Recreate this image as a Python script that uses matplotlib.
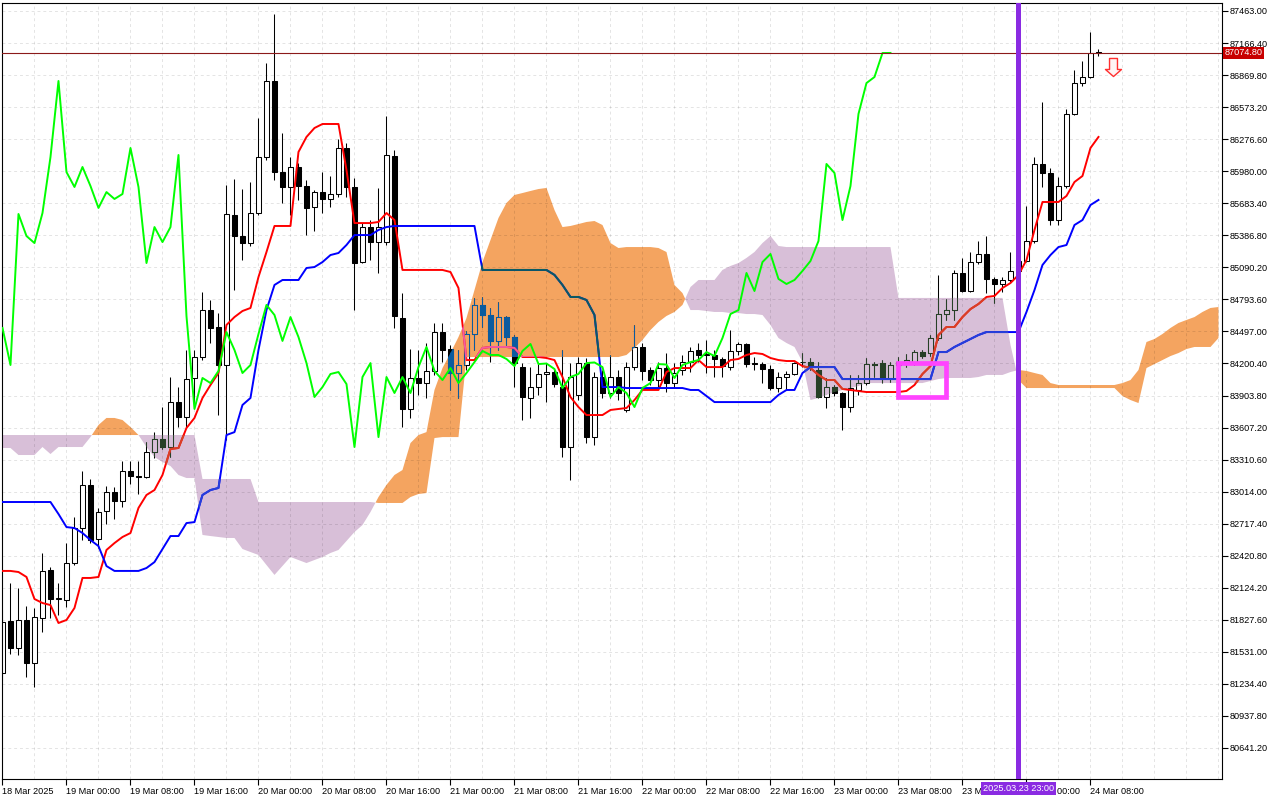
import numpy as np
import matplotlib
matplotlib.use("Agg")
import matplotlib.pyplot as plt
from matplotlib.colors import to_rgb, to_hex
from matplotlib.path import Path
from matplotlib.patches import Rectangle
from matplotlib.transforms import blended_transform_factory

plt.rcParams['font.family'] = ['Liberation Sans', 'DejaVu Sans']

# BTCUSD H1, first bar 18 Mar 16:00, last bar 24 Mar 09:00
opens = [81335, 81817, 81567, 81826, 81428, 81844, 82289, 82020, 82011, 82353,
         82677, 83076, 82576, 82835, 83010, 82928, 83205, 83158, 83149, 83380,
         83501, 83427, 83843, 83705, 84066, 84260, 84695, 84538, 84186, 85575,
         85380, 85315, 85593, 86111, 86815, 85972, 85834, 86019, 85843, 85649,
         85787, 85723, 85769, 86195, 85834, 85139, 85463, 85324, 85324, 86120,
         84621, 83779, 84066, 84019, 84131, 84491, 84335, 84112, 84186, 84473,
         84742, 84649, 84409, 84630, 84445, 84167, 83881, 83982, 84103, 84121,
         83982, 83427, 83909, 84204, 83519, 84075, 83927, 84075, 83770, 84167,
         84353, 84140, 84047, 84158, 84019, 84140, 84213, 84325, 84288, 84279,
         84242, 84167, 84316, 84381, 84204, 84195, 84149, 83973, 84075, 84103,
         84213, 84213, 84140, 83890, 83982, 83927, 83797, 83955, 84019, 84195,
         84204, 84066, 84186, 84213, 84213, 84306, 84297, 84436, 84658, 84695,
         85038, 84871, 85139, 85214, 84983, 84936, 84973, 85057, 85149, 85334,
         86047, 85964, 85528, 85843, 86510, 86796, 86852, 87080]
highs = [81918, 82168, 82122, 81955, 81937, 82446, 82316, 82168, 82538, 82779,
         83205, 83131, 82863, 83066, 83057, 83298, 83298, 83298, 83473, 83565,
         83797, 84075, 83982, 84325, 84325, 84861, 84788, 84667, 85853, 85908,
         85816, 85880, 86473, 86982, 87435, 86334, 86111, 86056, 85899, 85806,
         85972, 85935, 86279, 86241, 85917, 85500, 85528, 85825, 86491, 86176,
         84852, 84335, 84325, 84390, 84575, 84575, 84372, 84325, 84501, 84806,
         84815, 84714, 84769, 84639, 84464, 84204, 84167, 84204, 84204, 84158,
         84325, 84204, 84260, 84251, 84121, 84140, 84279, 84140, 84213, 84557,
         84390, 84167, 84213, 84297, 84204, 84279, 84353, 84390, 84418, 84325,
         84260, 84510, 84399, 84390, 84260, 84213, 84186, 84121, 84131, 84213,
         84297, 84251, 84213, 84066, 84001, 83940, 84094, 84094, 84251, 84213,
         84232, 84213, 84260, 84288, 84325, 84325, 84464, 85020, 84797, 85066,
         85177, 85232, 85334, 85380, 85001, 85001, 85232, 85205, 85658, 86111,
         86620, 86010, 85926, 86556, 86917, 87001, 87268, 87112]
lows = [81270, 81511, 81502, 81298, 81205, 81714, 81844, 81872, 81946, 82335,
        82566, 82538, 82492, 82714, 82761, 82872, 83085, 82992, 83140, 83325,
        83409, 83334, 83612, 83612, 83816, 84232, 84390, 83724, 83492, 84880,
        85158, 85287, 85575, 86084, 85899, 85686, 85575, 85714, 85390, 85427,
        85593, 85649, 85741, 85741, 84695, 85130, 85158, 85038, 85297, 84529,
        83612, 83696, 83909, 83881, 84094, 84213, 83955, 83881, 84140, 84325,
        84538, 84213, 84325, 84372, 83982, 83677, 83696, 83909, 83843, 83982,
        83334, 83122, 83862, 83464, 83446, 83881, 83881, 83862, 83751, 84140,
        84047, 84001, 83982, 83936, 83973, 84094, 84121, 84213, 84112, 84075,
        84075, 84140, 84279, 84167, 84140, 84019, 83955, 83936, 83955, 84094,
        84167, 84140, 83881, 83788, 83899, 83584, 83751, 83909, 84001, 84075,
        84019, 84028, 84158, 84167, 84186, 84251, 84269, 84418, 84603, 84603,
        84861, 84861, 85121, 84852, 84760, 84861, 84954, 85020, 85139, 85315,
        85834, 85482, 85482, 85825, 86501, 86768, 86845, 87046]
closes = [81807, 81567, 81826, 81428, 81853, 82280, 82020, 82029, 82353, 82677,
          83076, 82566, 82825, 83010, 82928, 83205, 83158, 83149, 83380, 83501,
          83427, 83843, 83705, 84057, 84260, 84695, 84529, 84186, 85584, 85380,
          85315, 85593, 86111, 86815, 85972, 85834, 86019, 85843, 85640, 85787,
          85723, 85769, 86195, 85834, 85130, 85463, 85324, 85463, 86130, 84639,
          83779, 84066, 84019, 84131, 84491, 84325, 84112, 84186, 84473, 84742,
          84649, 84409, 84630, 84445, 84204, 83890, 83982, 84103, 84121, 84010,
          83427, 84075, 84204, 83519, 84075, 83927, 84075, 83927, 84167, 84353,
          84131, 84047, 84158, 84019, 84112, 84213, 84316, 84279, 84279, 84242,
          84176, 84316, 84381, 84195, 84200, 84149, 83973, 84075, 84103, 84204,
          84210, 84167, 83890, 83982, 83927, 83797, 83973, 84019, 84195, 84190,
          84066, 84186, 84213, 84232, 84306, 84269, 84436, 84658, 84695, 85038,
          84871, 85139, 85214, 84983, 84936, 84973, 85057, 85149, 85334, 86047,
          85964, 85528, 85843, 86510, 86796, 86852, 87074, 87074.8]

# Ichimoku (9, 26, 52)
tenkan = [82280, 82280, 82270, 82224, 82020, 81983, 81964, 81798, 81826, 81937,
          82215, 82215, 82224, 82474, 82538, 82594, 82631, 82863, 82983, 83029,
          83168, 83409, 83418, 83603, 83696, 83881, 84001, 84112, 84557, 84630,
          84686, 84714, 85001, 85232, 85473, 85473, 85473, 86158, 86297, 86380,
          86417, 86417, 86417, 85991, 85500, 85500, 85500, 85510, 85593, 85528,
          85066, 85066, 85066, 85066, 85066, 85066, 85047, 84899, 84232, 84232,
          84344, 84353, 84353, 84353, 84344, 84260, 84260, 84260, 84251, 84232,
          84075, 83890, 83797, 83723, 83723, 83723, 83770, 83779, 83788, 83862,
          83955, 83955, 83955, 84121, 84158, 84158, 84158, 84232, 84167, 84167,
          84167, 84232, 84242, 84279, 84297, 84288, 84251, 84232, 84223, 84223,
          84176, 84158, 84094, 84047, 84047, 83964, 83955, 83946, 83936, 83936,
          83936, 83936, 83936, 83946, 84001, 84103, 84176, 84464, 84538, 84538,
          84630, 84704, 84751, 84816, 84825, 84899, 84945, 85020, 85158, 85436,
          85695, 85695, 85695, 85751, 85880, 85936, 86195, 86297]
kijun = [82918, 82918, 82918, 82918, 82918, 82918, 82918, 82807, 82686, 82677,
         82631, 82566, 82510, 82325, 82280, 82280, 82280, 82280, 82307, 82362,
         82483, 82603, 82603, 82723, 82732, 82983, 83029, 83048, 83538, 83565,
         83816, 83881, 84325, 84695, 84927, 84973, 84973, 84973, 85084, 85093,
         85139, 85204, 85223, 85297, 85389, 85389, 85389, 85436, 85463, 85473,
         85473, 85473, 85473, 85473, 85473, 85473, 85473, 85473, 85473, 85473,
         85066, 85066, 85066, 85066, 85066, 85066, 85066, 85066, 85066, 85020,
         84927, 84816, 84816, 84788, 84649, 83982, 83982, 83982, 83973, 83973,
         83973, 83973, 83973, 83973, 83973, 83973, 83955, 83955, 83899, 83843,
         83843, 83843, 83843, 83843, 83843, 83843, 83843, 83909, 83955, 83955,
         84112, 84167, 84167, 84167, 84167, 84056, 84056, 84056, 84056, 84056,
         84056, 84056, 84056, 84056, 84056, 84056, 84056, 84306, 84306, 84353,
         84390, 84427, 84464, 84491, 84491, 84491, 84491, 84491, 84677, 84880,
         85112, 85204, 85278, 85297, 85482, 85528, 85667, 85714]
# senkou spans as drawn (already shifted 26 bars ahead), from the first bar
span_a = [83418, 83418, 83353, 83353, 83353, 83427, 83362, 83427, 83427, 83427,
          83427, 83519, 83631, 83696, 83696, 83677, 83612, 83538, 83427, 83334,
          83288, 83251, 83168, 83140, 83140, 82613, 82603, 82594, 82585, 82585,
          82483, 82455, 82428, 82335, 82243, 82326, 82409, 82381, 82353, 82381,
          82409, 82446, 82474, 82557, 82640, 82705, 82825, 82964, 83076, 83168,
          83214, 83464, 83538, 83565, 83955, 84158, 84297, 84445, 84621, 84880,
          85139, 85343, 85547, 85686, 85760, 85778, 85797, 85815, 85825, 85621,
          85463, 85473, 85491, 85510, 85519, 85482, 85315, 85269, 85278, 85278,
          85278, 85278, 85269, 85232, 84927, 84852, 84695, 84695, 84686, 84677,
          84677, 84667, 84667, 84658, 84658, 84649, 84556, 84436, 84390, 84353,
          84214, 83862, 83881, 83909, 83936, 83955, 83973, 83992, 84019, 84019,
          84019, 84019, 84019, 84019, 84019, 84019, 84038, 84056, 84066, 84066,
          84066, 84066, 84075, 84094, 84094, 84094, 84121, 84140, 84131, 84112,
          84094, 84019, 84001, 84001, 84001, 84001, 84001, 84001, 84001, 84001,
          84019, 84047, 84140, 84399, 84427, 84473, 84529, 84575, 84603, 84630,
          84677, 84714, 84723]
span_b = ([83538] * 25 + [83131] * 7 + [82918] * 15 + [82909] * 4
          + [82964, 82992, 83001, 83510, 83519, 83519, 83519] + [84260] * 20
          + [84279, 84344, 84418, 84510, 84584, 84640, 84677, 84742, 84908, 84973,
             84973, 84973, 85066, 85103, 85130, 85177, 85232, 85315, 85380, 85288]
          + [85278] * 14 + [84807] * 14 + [84372, 84047] + [83973] * 12
          + [83899, 83862, 83834, 84158, 84195, 84232, 84269, 84297, 84334, 84353,
             84353, 84353, 84436])

time_labels = ['18 Mar 2025', '19 Mar 00:00', '19 Mar 08:00', '19 Mar 16:00',
               '20 Mar 00:00', '20 Mar 08:00', '20 Mar 16:00', '21 Mar 00:00',
               '21 Mar 08:00', '21 Mar 16:00', '22 Mar 00:00', '22 Mar 08:00',
               '22 Mar 16:00', '23 Mar 00:00', '23 Mar 08:00', '23 Mar 16:00',
               '24 Mar 00:00', '24 Mar 08:00']
price_levels = [80641.2 + 296.6 * i for i in range(24)]
bid = 87074.80
vline_bar, vline_text = 127, '2025.03.23 23:00'
box_bars, box_prices = (112, 118), (83894, 84209)
arrow_bar, arrow_price = 138.8, 86949

o = np.array(opens, float)
c = np.array(closes, float)
h = np.array(highs, float)
l = np.array(lows, float)
bars = np.arange(len(c))
cloud_x = np.arange(len(span_a))
sa = np.array(span_a, float)
sb = np.array(span_b, float)
bull = c >= o

SANDY, THISTLE = '#f4a460', '#d8bfd8'


def xnor(col, cloud):
    a = np.round(np.array(to_rgb(col)) * 255).astype(int)
    b = np.round(np.array(to_rgb(cloud)) * 255).astype(int)
    return to_hex((255 - (a ^ b)) / 255)


def candles(ax, up_face, dn_face, edge, z, clip=None):
    w = ax.vlines(bars, l, h, colors=edge, lw=0.75, zorder=z)
    faces = [up_face if b else dn_face for b in bull]
    body = ax.bar(bars, np.abs(c - o), bottom=np.minimum(o, c), width=0.55,
                  color=faces, edgecolor=edge, lw=0.75, zorder=z + 0.05)
    if clip is not None:
        w.set_clip_path(clip, ax.transData)
        for p in body:
            p.set_clip_path(clip, ax.transData)


fig = plt.figure(figsize=(12.8, 8), dpi=100)
ax = fig.add_axes([2 / 1280, 21 / 800, 1220 / 1280, 776 / 800])
ax.set_xlim(-0.06, 152.44)
ax.set_ylim(80354, 87537)

# kumo
up = ax.fill_between(cloud_x, sa, sb, where=sa >= sb, interpolate=True,
                     facecolor=SANDY, lw=0, zorder=0.3)
dn = ax.fill_between(cloud_x, sa, sb, where=sa < sb, interpolate=True,
                     facecolor=THISTLE, lw=0, zorder=0.3)
up_path = Path.make_compound_path(*up.get_paths())
dn_path = Path.make_compound_path(*dn.get_paths())

candles(ax, 'white', 'black', 'black', 2)
ax.plot(bars, tenkan, color='#ff0000', lw=1.4, zorder=3)
ax.plot(bars, kijun, color='#0000ff', lw=1.4, zorder=3)

# MT4 draws the cloud as not-xor, so candles and lines change colour inside it
for path, cc in ((up_path, SANDY), (dn_path, THISTLE)):
    candles(ax, cc, xnor('black', cc), xnor('black', cc), 2.2, clip=path)
    for vals, col in ((tenkan, '#ff0000'), (kijun, '#0000ff')):
        ln, = ax.plot(bars, vals, color=xnor(col, cc), lw=1.4, zorder=3.1)
        ln.set_clip_path(path, ax.transData)

# chikou span: close shifted 26 bars back
ax.plot(bars[:-26], c[26:], color='#00ff00', lw=1.4, zorder=4)

ax.axhline(bid, color='#8b1a1a', lw=0.8, zorder=5)
ax.axvline(vline_bar, color='#8a2be2', lw=3.6, zorder=6)
ax.add_patch(Rectangle((box_bars[0], box_prices[0]), box_bars[1] - box_bars[0],
                       box_prices[1] - box_prices[0], fill=False,
                       edgecolor='#ff44ff', lw=3.4, zorder=6))
arrow = Path([(-0.44, 1), (0.44, 1), (0.44, -0.22), (0.89, -0.22), (0, -1),
              (-0.89, -0.22), (-0.44, -0.22), (-0.44, 1)], closed=True)
ax.plot([arrow_bar], [arrow_price], marker=arrow, ms=13, mfc='#fff4f4',
        mec='#ff3030', mew=1.0, zorder=7, clip_on=False)

# axes, grid, ticks
ax.set_axisbelow(True)
ax.yaxis.tick_right()
ax.set_yticks(price_levels)
ax.set_yticklabels([f'{v:.2f}' for v in price_levels])
ax.set_xticks(np.arange(0, 8 * len(time_labels), 8))
ax.set_xticklabels(time_labels, ha='left')
ax.set_xticks(np.arange(0, 153, 4), minor=True)
ax.tick_params(axis='x', which='major', length=4, width=0.8, pad=2, labelsize=6.6)
ax.tick_params(axis='x', which='minor', length=0)
ax.tick_params(axis='y', length=4, width=0.8, pad=1.5, labelsize=6.6)
ax.grid(True, axis='x', which='both', color='black', alpha=0.11,
        ls=(0, (3, 3)), lw=0.7)
ax.grid(True, axis='y', which='major', color='black', alpha=0.11,
        ls=(0, (3, 3)), lw=0.7)
for sp in ax.spines.values():
    sp.set_linewidth(0.8)

ax.text(vline_bar, -0.0065, vline_text, color='white', fontsize=6.6,
        ha='center', va='top', zorder=20, clip_on=False,
        transform=blended_transform_factory(ax.transData, ax.transAxes),
        bbox=dict(boxstyle='square,pad=0.2', fc='#8a2be2', ec='none'))
ax.text(1.0018, bid, f'{bid:.2f}', color='white', fontsize=6.6,
        ha='left', va='center', zorder=20, clip_on=False,
        transform=blended_transform_factory(ax.transAxes, ax.transData),
        bbox=dict(boxstyle='square,pad=0.15', fc='#c80000', ec='none'))

fig.savefig('out.png', dpi=100)
